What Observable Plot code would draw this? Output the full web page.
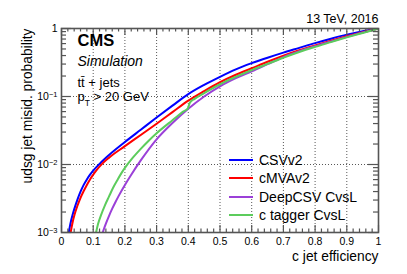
<!DOCTYPE html>
<html><head><meta charset="utf-8">
<script src="https://cdn.jsdelivr.net/npm/d3@7"></script>
<script src="https://cdn.jsdelivr.net/npm/@observablehq/plot@0.6"></script>
<style>
html,body{margin:0;padding:0;background:#fff;}
#chart{position:relative;width:407px;height:274px;font-family:"Liberation Sans",Arial,sans-serif;}
#legend{position:absolute;left:229px;top:150.8px;font-size:14px;color:#000;}
.row{height:18.35px;display:flex;align-items:center;white-space:nowrap;}
.sw{width:24px;height:2px;margin-right:6px;}
</style></head><body><div id="chart"></div>
<script>
// ---- data ----
const seriesNames = ["CSVv2", "cMVAv2", "DeepCSV CvsL", "c tagger CvsL"];
const seriesColors = ["#0000ff", "#ff0000", "#9b40d8", "#5ccc5c"];

const csvX = [0.023,0.026,0.03,0.035,0.04,0.05,0.06,0.07,0.08,0.09,0.1,0.12,0.15,0.2,0.25,0.3,0.35,0.4,0.45,0.5,0.55,0.6,0.65,0.7,0.75,0.8,0.85,0.9,0.95,1];
const csvY = [0.001,0.0012,0.00148,0.00182,0.00219,0.00302,0.00398,0.00501,0.00603,0.00708,0.00813,0.01023,0.0138,0.0214,0.0324,0.049,0.0733,0.1084,0.148,0.195,0.251,0.309,0.372,0.442,0.519,0.61,0.708,0.813,0.912,1];

const cmvaX = [0.029,0.032,0.036,0.041,0.05,0.06,0.07,0.08,0.09,0.1,0.11,0.128,0.15,0.2,0.25,0.3,0.35,0.4,0.45,0.5,0.55,0.6,0.65,0.7,0.75,0.8,0.85,0.9,0.95,1];
const cmvaY = [0.001,0.0012,0.00148,0.00182,0.00245,0.00324,0.00407,0.00501,0.00603,0.00708,0.00822,0.01023,0.0126,0.0186,0.0272,0.0398,0.0589,0.0871,0.1202,0.162,0.209,0.26,0.324,0.398,0.479,0.565,0.661,0.767,0.881,1];

const deepX = [0.13,0.14,0.15,0.16,0.17,0.18,0.2,0.22,0.25,0.3,0.35,0.4,0.45,0.5,0.55,0.6,0.65,0.7,0.75,0.8,0.85,0.9,0.95,1];
const deepY = [0.001,0.00135,0.00176,0.00224,0.00279,0.00343,0.00501,0.00708,0.01148,0.02344,0.04074,0.06607,0.1,0.1413,0.1862,0.2344,0.2985,0.3802,0.4624,0.5495,0.6457,0.7534,0.871,1];

const ctagX = [0.109,0.115,0.125,0.137,0.15,0.162,0.175,0.19,0.2,0.225,0.25,0.275,0.3,0.35,0.385,0.398,0.405,0.42,0.45,0.5,0.55,0.6,0.65,0.7,0.75,0.8,0.85,0.9,0.95,1];
const ctagY = [0.001,0.00132,0.00182,0.00251,0.00339,0.00447,0.00575,0.00759,0.00891,0.0126,0.017,0.0224,0.0288,0.0447,0.0603,0.0661,0.0813,0.0923,0.1122,0.1514,0.195,0.2443,0.302,0.3715,0.4519,0.537,0.631,0.741,0.861,1];

const xTickValues = [0,0.1,0.2,0.3,0.4,0.5,0.6,0.7,0.8,0.9,1];
const yTickValues = [0.001,0.01,0.1,1];
const yTickLabels = ["10^-3","10^-2","10^-1","1"];

// ---- build ----
const W = 407, H = 274, mL = 61, mR = 29, mT = 28, mB = 42;
const pw = W - mL - mR, ph = H - mT - mB;
const xs = [csvX, cmvaX, deepX, ctagX], ys = [csvY, cmvaY, deepY, ctagY];
const curves = [];
seriesNames.forEach((s, i) => xs[i].forEach((x, j) => curves.push({s, x, y: ys[i][j]})));

const xMinor = d3.range(0, 51).map(i => i / 50).filter((v, i) => i % 5 !== 0);
const yMinor = [];
[-3, -2, -1].forEach(e => { for (let k = 2; k <= 9; k++) yMinor.push(k * Math.pow(10, e)); });
const grid = {stroke: "#444", strokeDasharray: "1,2", strokeWidth: 0.9};
const axc = {stroke: "#555", strokeWidth: 1.2};

const chart = Plot.plot({
  width: W, height: H,
  marginLeft: mL, marginRight: mR, marginTop: mT, marginBottom: mB,
  style: {fontFamily: "'Liberation Sans', Arial, sans-serif", fontSize: "10.5px", background: "white", color: "#000"},
  x: {domain: [0, 1], axis: null},
  y: {type: "log", domain: [0.001, 1], axis: null},
  color: {domain: seriesNames, range: seriesColors},
  marks: [
    Plot.ruleX(xTickValues.slice(1, -1), {x: d => d, ...grid}),
    Plot.ruleY(yTickValues.slice(1, -1), {y: d => d, ...grid}),
    Plot.line(curves, {x: "x", y: "y", z: "s", stroke: "s", strokeWidth: 2, curve: "monotone-x", clip: true}),
    // bottom & top ticks
    Plot.ruleX(xTickValues, {x: d => d, insetTop: ph - 7, ...axc}),
    Plot.ruleX(xMinor, {x: d => d, insetTop: ph - 3.5, ...axc}),
    Plot.ruleX(xTickValues, {x: d => d, insetBottom: ph - 7, ...axc}),
    Plot.ruleX(xMinor, {x: d => d, insetBottom: ph - 3.5, ...axc}),
    // left & right ticks
    Plot.ruleY(yTickValues, {y: d => d, insetRight: pw - 10, ...axc}),
    Plot.ruleY(yMinor, {y: d => d, insetRight: pw - 5, ...axc}),
    Plot.ruleY(yTickValues, {y: d => d, insetLeft: pw - 10, ...axc}),
    Plot.ruleY(yMinor, {y: d => d, insetLeft: pw - 5, ...axc}),
    Plot.frame({stroke: "#555", strokeWidth: 1.6}),
    Plot.axisX(xTickValues, {tickSize: 0, tickPadding: 5, tickFormat: d3.format("~g"), fontSize: 10.5, label: null}),
    Plot.axisY(yTickValues, {tickSize: 0, tickPadding: 4, tickFormat: d => yTickLabels[yTickValues.indexOf(d)], fontSize: 10.5, label: null}),
    // annotations
    Plot.text(["13 TeV, 2016"], {frameAnchor: "top-right", textAnchor: "end", lineAnchor: "bottom", dy: -6, fontSize: 12.5}),
    Plot.text(["CMS"], {frameAnchor: "top-left", textAnchor: "start", lineAnchor: "bottom", dx: 16, dy: 17.7, fontSize: 16.5, fontWeight: "bold"}),
    Plot.text(["Simulation"], {frameAnchor: "top-left", textAnchor: "start", lineAnchor: "bottom", dx: 16, dy: 37, fontSize: 14, fontStyle: "italic"}),
    Plot.text(["t\u0074\u0304 + jets"], {frameAnchor: "top-left", textAnchor: "start", lineAnchor: "bottom", dx: 16, dy: 58, fontSize: 13}),
    Plot.text(["pT > 20 GeV"], {frameAnchor: "top-left", textAnchor: "start", lineAnchor: "bottom", dx: 16, dy: 72, fontSize: 13}),
    Plot.text(["c jet efficiency"], {frameAnchor: "bottom-right", textAnchor: "end", lineAnchor: "bottom", dy: 28, fontSize: 13.8}),
    Plot.text(["udsg jet misid. probability"], {frameAnchor: "top-left", rotate: -90, textAnchor: "end", lineAnchor: "bottom", dx: -30, fontSize: 13.8})
  ]
});

// superscripts / subscripts as real text
d3.select(chart).selectAll("text").each(function() {
  const t = this.textContent;
  const m = /^10\^(-?\d+)$/.exec(t);
  const sel = d3.select(this);
  if (m) {
    sel.text(null);
    sel.append("tspan").text("10");
    sel.append("tspan").attr("dy", "-0.42em").attr("font-size", "7.5px").text(m[1].replace("-", "\u2212"));
  } else if (t === "pT > 20 GeV") {
    sel.text(null);
    sel.append("tspan").text("p");
    sel.append("tspan").attr("dy", 5).attr("font-size", "8.5px").text("T");
    sel.append("tspan").attr("dy", -5).text(" > 20 GeV");
  }
});

const root = document.getElementById("chart");
root.appendChild(chart);
const leg = document.createElement("div");
leg.id = "legend";
seriesNames.forEach((s, i) => {
  const r = document.createElement("div"); r.className = "row";
  const sw = document.createElement("span"); sw.className = "sw"; sw.style.background = seriesColors[i];
  const tx = document.createElement("span"); tx.textContent = s;
  r.appendChild(sw); r.appendChild(tx); leg.appendChild(r);
});
root.appendChild(leg);
</script></body></html>
